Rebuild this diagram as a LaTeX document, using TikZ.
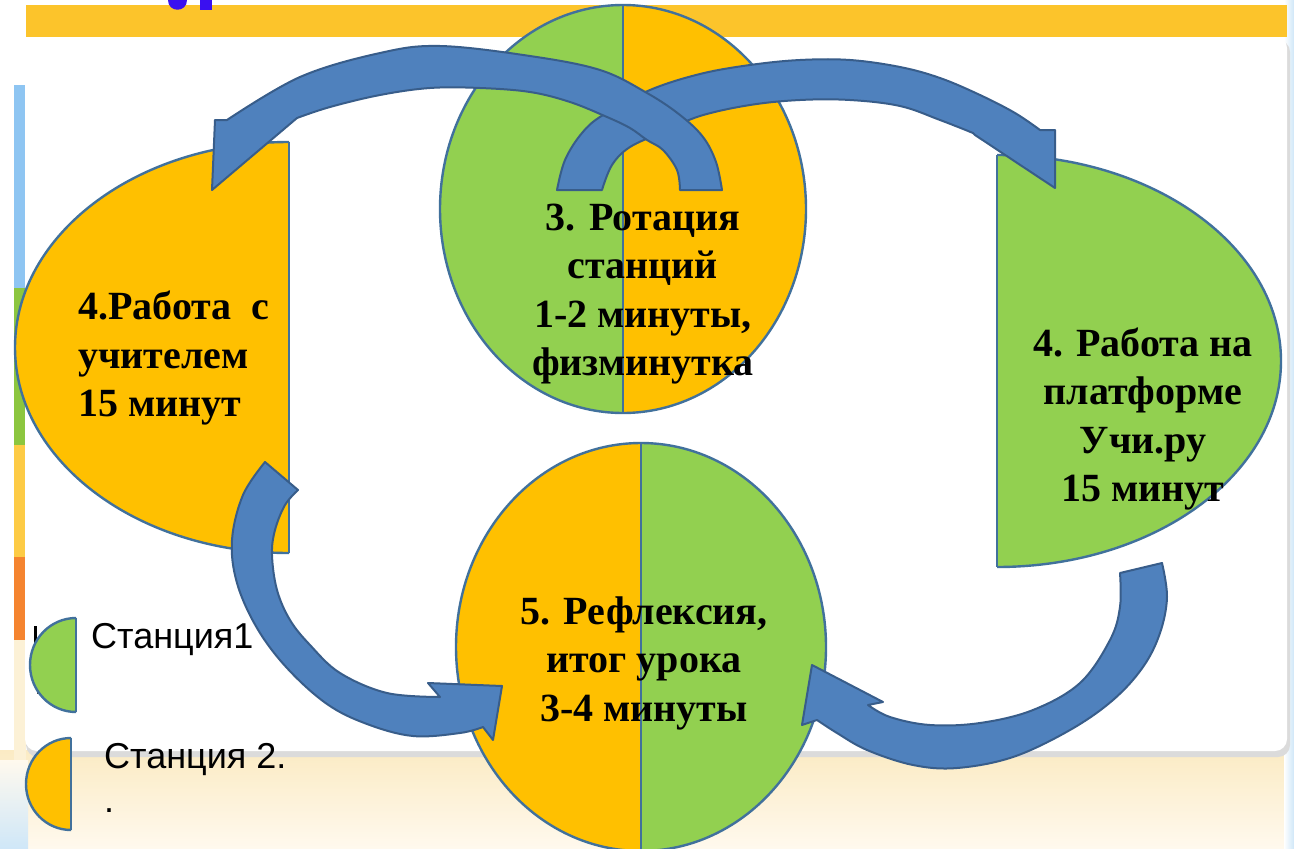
\documentclass[tikz,border=0pt]{standalone}
\usepackage{fontspec}
\setmainfont{Liberation Serif}
\newfontfamily\legendfont{Liberation Sans}
\definecolor{orangeF}{HTML}{FFC000}
\definecolor{greenF}{HTML}{92D050}
\definecolor{shapeB}{HTML}{41719C}
\definecolor{arrowF}{HTML}{4F81BD}
\definecolor{arrowB}{HTML}{385D8A}
\definecolor{barY}{HTML}{FCC42B}
\definecolor{beigeA}{HTML}{FBEBC4}
\definecolor{beigeB}{HTML}{FFF9EE}
\definecolor{stripBlue}{HTML}{8EC5F2}
\definecolor{stripGreen}{HTML}{8CC63F}
\definecolor{stripYellow}{HTML}{FDCB45}
\definecolor{stripOrange}{HTML}{F5842F}
\definecolor{edgeBlue}{HTML}{CFE7F8}
\definecolor{titleBlue}{HTML}{3A10F0}
\begin{document}
\begin{tikzpicture}[x=1pt,y=-1pt,
  shapeline/.style={draw=shapeB, line width=2.4pt},
  blockarrow/.style={fill=arrowF, draw=arrowB, line width=2pt, line join=round},
  lbl/.style={font=\bfseries\fontsize{40}{48.5}\selectfont, inner sep=0pt, text=black},
  legendtext/.style={font=\legendfont\fontsize{36}{42}\selectfont, inner sep=0pt, anchor=west, text=black}]

\useasboundingbox (0,0) rectangle (1294,849);
% ---------- background ----------
\fill[white] (0,0) rectangle (1294,849);
\shade[top color=beigeA, bottom color=beigeB] (0,750) rectangle (1294,849);
\shade[left color=white, right color=edgeBlue] (1284,0) rectangle (1294,849);
\shade[top color=beigeB, bottom color=edgeBlue] (0,760) rectangle (28,849);
% left coloured strip
\fill[stripBlue] (14,85) rectangle (26,288);
\fill[stripGreen] (14,288) rectangle (26,445);
\fill[stripYellow] (14,445) rectangle (26,557);
\fill[stripOrange] (14,557) rectangle (26,640);
\fill[beigeA!70] (14,640) rectangle (26,760);
% card with shadow
\fill[black!14, rounded corners=12pt] (26,40) rectangle (1290,757);
\fill[white, rounded corners=12pt] (25,36) rectangle (1287,751);
% top bar
\fill[barY] (26,5) rectangle (1287,37);
% fragment of blue title
\fill[titleBlue] (168,0) .. controls (168,13) and (187,13) .. (187,0) -- cycle;
\fill[titleBlue] (200,0) rectangle (212,10);

% ---------- top circle ----------
\fill[orangeF] (623,209) ellipse [x radius=183, y radius=204];
\begin{scope}
  \clip (0,0) rectangle (623,849);
  \fill[greenF] (623,209) ellipse [x radius=183, y radius=204];
\end{scope}
\draw[shapeline] (623,209) ellipse [x radius=183, y radius=204];
\draw[shapeline] (623,5) -- (623,413);

% ---------- left half shape ----------
\begin{scope}
  \clip (0,0) rectangle (289,849);
  \draw[shapeline, fill=orangeF] (289,347.5) ellipse [x radius=274, y radius=205.5];
\end{scope}
\draw[shapeline] (289,142) -- (289,553);

% ---------- right half shape ----------
\begin{scope}
  \clip (997,0) rectangle (1294,849);
  \draw[shapeline, fill=greenF] (997,361) ellipse [x radius=284, y radius=206];
\end{scope}
\draw[shapeline] (997,155) -- (997,567);

% ---------- bottom circle ----------
\fill[greenF] (641,647) ellipse [x radius=185, y radius=204];
\begin{scope}
  \clip (0,0) rectangle (641,849);
  \fill[orangeF] (641,647) ellipse [x radius=185, y radius=204];
\end{scope}
\draw[shapeline] (641,647) ellipse [x radius=185, y radius=204];
\draw[shapeline] (641,443) -- (641,851);

% ---------- legend ----------
\fill[black] (34,626) rectangle (37,646);
\node[legendtext] (dotA) at (34,693) {.};
\begin{scope}
  \clip (0,0) rectangle (76,849);
  \draw[shapeline, fill=greenF] (76,665) ellipse [x radius=46, y radius=47];
\end{scope}
\draw[shapeline] (76,618) -- (76,712);
\begin{scope}
  \clip (0,0) rectangle (71,849);
  \draw[shapeline, fill=orangeF] (71,784) ellipse [x radius=45, y radius=46];
\end{scope}
\draw[shapeline] (71,738) -- (71,830);
\node[legendtext] (st1) at (91,640) {Станция1};
\node[legendtext] (st2) at (104,760) {Станция 2.};
\node[legendtext] (dotB) at (104,811) {.};

% ---------- curved block arrows ----------
% arrow 2 : from top circle to right shape
\draw[blockarrow] plot[smooth, tension=0.6] coordinates {(557,190) (565,160) (582,133) (603,115) (650,90) (700,74) (750,65) (800,60) (850,60) (900,67) (940,78) (980,95) (1015,113) (1040,130)}
  -- (1055,130) -- (1055,188) -- (975,135)
  -- plot[smooth, tension=0.6] coordinates {(973,133) (940,120) (900,106) (850,100) (800,100) (750,105) (700,116) (663,132) (630,147) (612,165) (602,190)}
  -- cycle;
% arrow 1 : from top circle to left shape
\draw[blockarrow] plot[smooth, tension=0.6] coordinates {(227,120) (300,77) (380,53) (440,46) (530,56) (600,70) (647,93) (680,115) (703,137) (716,162) (722,190)}
  -- (680,190)
  -- plot[smooth, tension=0.6] coordinates {(680,190) (677,170) (663,150) (647,140) (630,128) (607,117) (570,102) (530,92) (480,88) (430,88) (380,95) (330,107) (297,118)}
  -- (212,190) -- (215,120) -- cycle;
% arrow 3 : from left shape to bottom circle
\draw[blockarrow] (265,462) -- plot[smooth, tension=0.6] coordinates {(298,490) (285,505) (275,530) (272,555) (277,590) (290,620) (310,645) (340,673) (387,693) (440,697)}
  -- (428,683) -- (502,686) -- (493,740)
  -- plot[smooth, tension=0.6] coordinates {(483,727) (460,733) (413,736) (367,724) (327,704) (287,668) (257,628) (237,583) (232,540) (243,495) (265,462)}
  -- cycle;
% arrow 4 : from right shape to bottom circle
\draw[blockarrow] plot[smooth, tension=0.6] coordinates {(1162,563) (1167,597) (1160,633) (1143,667) (1113,700) (1070,730) (1013,757) (957,768) (913,765) (867,750) (837,733) (817,720)}
  -- (802,725) -- (812,665) -- (883,702)
  -- plot[smooth, tension=0.6] coordinates {(868,705) (890,717) (930,725) (980,723) (1033,710) (1080,683) (1110,640) (1120,607) (1120,573)}
  -- cycle;

% ---------- labels ----------
\node[lbl, align=center] (rot) at (643,294) {3. Ротация\\станций\\1-2 минуты,\\физминутка};
\node[lbl, align=left, anchor=west] (teach) at (78,358) {4.Работа\hspace{0.5em}с\\учителем\\15 минут};
\node[lbl, align=center] (uchi) at (1143,419) {4. Работа на\\ платформе\\ Учи.ру\\ 15 минут};
\node[lbl, align=center] (refl) at (644,663) {5. Рефлексия,\\итог урока\\3-4 минуты};
\end{tikzpicture}
\end{document}
